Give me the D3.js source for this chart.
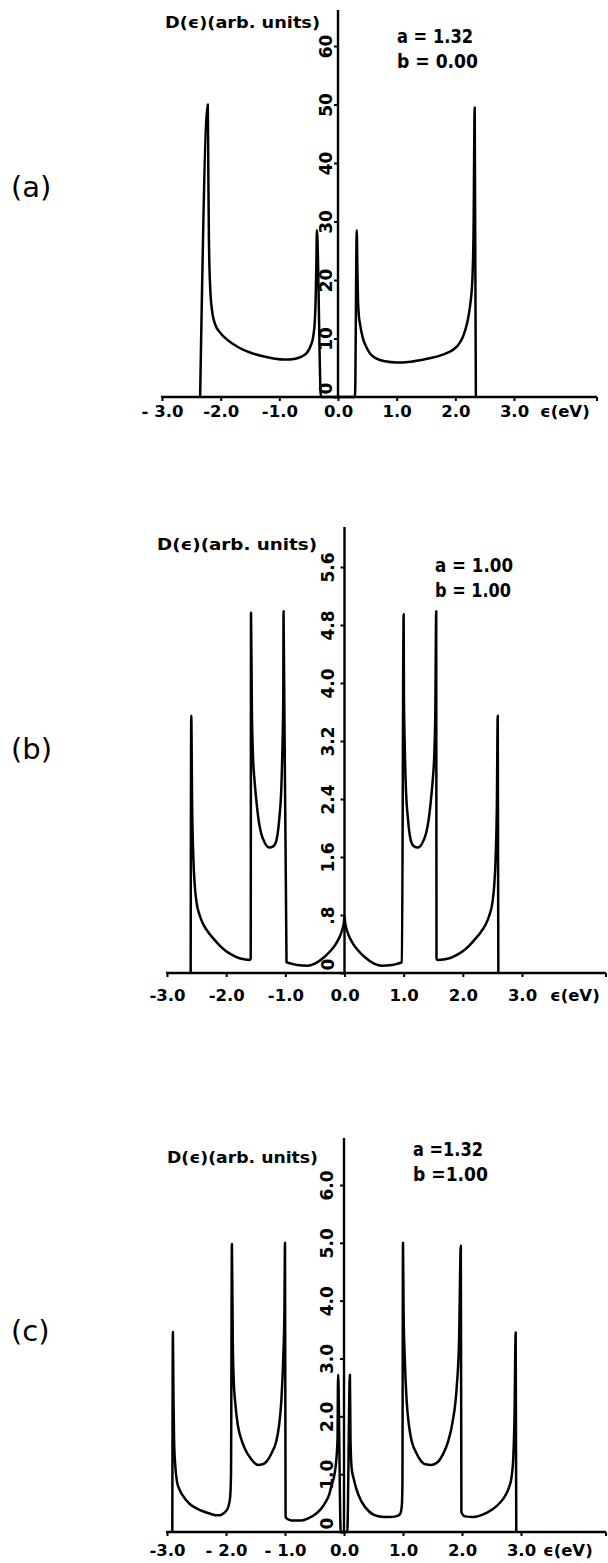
<!DOCTYPE html>
<html><head><meta charset="utf-8">
<script src="https://cdn.jsdelivr.net/npm/d3@7"></script>
<style>
body{margin:0;background:#fff;}
svg{display:block;}
</style>
</head><body>
<svg id="chart" width="608" height="1563"></svg>
<script>
// ---------- DATA ----------
const xTickValues = [-3, -2, -1, 0, 1, 2, 3];
const xTickLabelsA = ["- 3.0", "-2.0", "-1.0", "0.0", "1.0", "2.0", "3.0"];
const xTickLabelsB = ["-3.0", "-2.0", "-1.0", "0.0", "1.0", "2.0", "3.0"];
const xTickLabelsC = ["-3.0", "- 2.0", "- 1.0", "0.0", "1.0", "2.0", "3.0"];
const xAxisTitle = "\u03F5(eV)";
const yAxisTitle = "D(\u03F5)(arb. units)";

const yTicksA = [0, 10, 20, 30, 40, 50, 60];
const yTickLabelsA = ["0", "10", "20", "30", "40", "50", "60"];
const yTicksB = [0, 0.8, 1.6, 2.4, 3.2, 4.0, 4.8, 5.6];
const yTickLabelsB = ["0", ".8", "1.6", "2.4", "3.2", "4.0", "4.8", "5.6"];
const yTicksC = [0, 1, 2, 3, 4, 5, 6];
const yTickLabelsC = ["0", "1.0", "2.0", "3.0", "4.0", "5.0", "6.0"];

const panelNames = ["(a)", "(b)", "(c)"];
const paramsA = ["a = 1.32", "b = 0.00"];
const paramsB = ["a = 1.00", "b = 1.00"];
const paramsC = ["a =1.32", "b =1.00"];

// density of states, [energy (eV), D]
const dosA = [
  [-2.35,0],[-2.22,50],[-2.21,38],[-2.20,27],[-2.18,19],[-2.15,15],[-2.10,12.6],[-2.0,10.9],
  [-1.89,9.8],[-1.7,8.5],[-1.5,7.6],[-1.3,7.0],[-1.1,6.6],[-0.9,6.4],[-0.75,6.5],[-0.62,6.9],
  [-0.52,7.7],[-0.46,8.9],[-0.42,10.5],[-0.395,13],[-0.38,17],[-0.37,22],[-0.36,28.5],[-0.29,0],
  [0.29,0],[0.32,28.5],[0.33,22],[0.34,17],[0.355,14],[0.375,12.5],[0.42,10.2],[0.48,8.6],
  [0.55,7.4],[0.65,6.6],[0.8,6.1],[1.0,5.9],[1.2,6.0],[1.4,6.3],[1.6,6.7],[1.8,7.3],[1.95,8.0],
  [2.05,8.9],[2.13,10.3],[2.2,12.6],[2.25,15.5],[2.29,20],[2.31,28],[2.33,49.5],[2.35,0]
];
const dosB = [
  [-2.60,0],[-2.59,3.55],[-2.575,2.3],[-2.555,1.6],[-2.53,1.2],[-2.50,0.97],[-2.45,0.8],[-2.38,0.66],
  [-2.3,0.56],[-2.2,0.46],[-2.1,0.37],[-2.0,0.3],[-1.9,0.25],[-1.8,0.21],[-1.7,0.19],[-1.6,0.18],
  [-1.585,0.2],[-1.58,4.97],[-1.565,3.6],[-1.55,3.07],[-1.52,2.65],[-1.49,2.38],[-1.45,2.1],[-1.41,1.93],
  [-1.35,1.8],[-1.27,1.73],[-1.2,1.75],[-1.15,1.83],[-1.12,1.98],[-1.10,2.15],[-1.07,2.5],[-1.05,3.07],
  [-1.035,3.8],[-1.03,4.99],[-0.98,0.15],[-0.9,0.13],[-0.8,0.11],[-0.63,0.10],[-0.5,0.13],[-0.34,0.22],
  [-0.22,0.32],[-0.14,0.41],[-0.07,0.52],[-0.03,0.62],[-0.012,0.69],[0,0.78],[0.012,0.69],
  [0.03,0.62],[0.07,0.52],[0.14,0.41],[0.22,0.32],[0.34,0.22],[0.5,0.13],[0.63,0.10],[0.8,0.11],
  [0.9,0.13],[0.97,0.15],[1.0,4.95],[1.005,3.8],[1.02,3.07],[1.04,2.5],[1.07,2.15],[1.09,1.98],
  [1.12,1.83],[1.17,1.75],[1.24,1.73],[1.32,1.8],[1.38,1.93],[1.42,2.1],[1.46,2.38],[1.49,2.65],
  [1.52,3.07],[1.535,3.6],[1.55,4.99],[1.555,0.2],[1.57,0.18],[1.7,0.19],[1.8,0.21],[1.9,0.25],
  [2.0,0.3],[2.1,0.37],[2.2,0.46],[2.3,0.56],[2.38,0.66],[2.45,0.8],[2.50,0.97],[2.53,1.2],
  [2.555,1.6],[2.575,2.3],[2.59,3.55],[2.60,0]
];
const dosC = [
  [-2.91,0],[-2.90,3.46],[-2.89,2.3],[-2.88,1.6],[-2.86,1.15],[-2.83,0.87],[-2.79,0.74],[-2.74,0.64],
  [-2.61,0.48],[-2.5,0.41],[-2.37,0.35],[-2.25,0.31],[-2.18,0.29],[-2.1,0.29],[-2.06,0.31],[-2.0,0.36],
  [-1.96,0.44],[-1.93,0.6],[-1.915,1.0],[-1.90,4.98],[-1.885,3.3],[-1.87,2.65],[-1.84,2.2],[-1.80,1.85],
  [-1.74,1.6],[-1.68,1.44],[-1.58,1.27],[-1.46,1.16],[-1.38,1.17],[-1.29,1.25],[-1.22,1.38],[-1.15,1.56],
  [-1.10,1.85],[-1.06,2.3],[-1.03,3.0],[-1.01,3.8],[-1.00,5.0],[-0.99,0.26],[-0.95,0.22],[-0.89,0.2],
  [-0.72,0.2],[-0.6,0.24],[-0.48,0.31],[-0.39,0.4],[-0.31,0.52],[-0.25,0.65],[-0.21,0.81],[-0.17,0.95],
  [-0.14,1.15],[-0.11,1.6],[-0.10,2.72],[-0.055,0],
  [0.055,0],[0.10,2.72],[0.11,1.6],[0.13,1.1],[0.17,0.9],[0.21,0.74],[0.3,0.52],[0.43,0.35],
  [0.6,0.27],[0.77,0.26],[0.88,0.27],[0.95,0.31],[0.98,0.45],[0.99,0.8],[1.0,5.0],[1.01,3.8],
  [1.03,3.0],[1.06,2.3],[1.10,1.85],[1.15,1.56],[1.22,1.38],[1.29,1.25],[1.38,1.17],[1.48,1.16],
  [1.58,1.2],[1.68,1.35],[1.76,1.55],[1.84,1.9],[1.91,2.5],[1.95,3.3],[1.98,4.95],[1.99,0.35],
  [2.0,0.32],[2.05,0.27],[2.2,0.26],[2.35,0.3],[2.5,0.38],[2.62,0.48],[2.74,0.64],[2.8,0.78],
  [2.84,0.95],[2.87,1.3],[2.89,2.0],[2.91,3.45],[2.92,0]
];

// ---------- DRAWING ----------
const svg = d3.select("#chart");
const FONT = "'DejaVu Sans', sans-serif";

function drawPanel(cfg) {
  const x = d3.scaleLinear().domain([-3, 3]).range(cfg.xRange);
  const y = d3.scaleLinear().domain(cfg.yDomain).range(cfg.yRange);
  const g = svg.append("g");

  // x axis ticks
  const xa = g.append("g").attr("transform", `translate(0,${y(0)})`)
    .call(d3.axisBottom(x).tickValues(xTickValues).tickSize(4)
      .tickFormat((d, i) => cfg.xLabels[i]));
  xa.select(".domain").remove();
  xa.selectAll(".tick line").attr("stroke", "#000").attr("stroke-width", 2);
  xa.selectAll(".tick text").attr("y", cfg.xLabelOffset).attr("dy", 0)
    .attr("font-family", FONT).attr("font-weight", "bold").attr("font-size", 16.5)
    .attr("fill", "#000");
  // x axis line
  g.append("line").attr("x1", x(-3) - 1).attr("x2", cfg.xEnd)
    .attr("y1", y(0)).attr("y2", y(0)).attr("stroke", "#000").attr("stroke-width", 2.4);
  g.append("line").attr("x1", cfg.xEnd).attr("x2", cfg.xEnd)
    .attr("y1", y(0)).attr("y2", y(0) + 4).attr("stroke", "#000").attr("stroke-width", 2);
  g.append("text").attr("x", cfg.xTitleX).attr("y", y(0) + cfg.xLabelOffset)
    .attr("font-family", FONT).attr("font-weight", "bold").attr("font-size", 16.5)
    .text(xAxisTitle);

  // y axis
  const ya = g.append("g").attr("transform", `translate(${x(0)},0)`)
    .call(d3.axisLeft(y).tickValues(cfg.yTicks).tickSize(4).tickFormat(""));
  ya.select(".domain").remove();
  ya.selectAll(".tick line").attr("stroke", "#000").attr("stroke-width", 2);
  ya.selectAll(".tick").append("text")
    .attr("transform", d => d === 0
      ? `translate(${-cfg.yLabelOffset},-3) rotate(-90)`
      : `translate(${-cfg.yLabelOffset},0) rotate(-90)`)
    .attr("text-anchor", d => d === 0 ? "start" : "middle")
    .attr("dy", "0.36em")
    .attr("font-family", FONT).attr("font-weight", "bold").attr("font-size", 17)
    .attr("fill", "#000")
    .text((d, i) => cfg.yLabels[i]);
  g.append("line").attr("x1", x(0)).attr("x2", x(0))
    .attr("y1", y(0) + 1).attr("y2", cfg.yTop).attr("stroke", "#000").attr("stroke-width", 2.4);

  // curve
  const line = d3.line().x(d => x(d[0])).y(d => y(d[1])).curve(d3.curveMonotoneX);
  g.append("path").datum(cfg.dos).attr("d", line)
    .attr("fill", "none").attr("stroke", "#000").attr("stroke-width", 2.5)
    .attr("stroke-linejoin", "round");

  // texts
  g.append("text").attr("x", cfg.titleX).attr("y", cfg.titleY)
    .attr("font-family", FONT).attr("font-weight", "bold").attr("font-size", 16)
    .attr("textLength", cfg.titleLen).attr("lengthAdjust", "spacingAndGlyphs")
    .text(yAxisTitle);
  cfg.params.forEach((p, i) => {
    g.append("text").attr("x", cfg.paramX).attr("y", cfg.paramY + i * 25)
      .attr("font-family", FONT).attr("font-size", 19).attr("font-weight", "bold")
      .attr("textLength", cfg.paramLen[i]).attr("lengthAdjust", "spacingAndGlyphs")
      .text(p);
  });
  g.append("text").attr("x", 11).attr("y", cfg.nameY)
    .attr("font-family", FONT).attr("font-size", 29)
    .text(cfg.name);
}

drawPanel({
  xRange: [162, 514], yDomain: [0, 60], yRange: [397, 46], yTop: 10, xEnd: 597,
  xLabels: xTickLabelsA, xLabelOffset: 20, xTitleX: 540,
  yTicks: yTicksA, yLabels: yTickLabelsA, yLabelOffset: 12,
  dos: dosA, titleX: 165, titleY: 28, titleLen: 155,
  params: paramsA, paramLen: [76, 81], paramX: 397, paramY: 43, name: panelNames[0], nameY: 197
});
drawPanel({
  xRange: [167, 522], yDomain: [0, 5.6], yRange: [973, 567], yTop: 527, xEnd: 606,
  xLabels: xTickLabelsB, xLabelOffset: 28, xTitleX: 550,
  yTicks: yTicksB, yLabels: yTickLabelsB, yLabelOffset: 17,
  dos: dosB, titleX: 157, titleY: 550, titleLen: 160,
  params: paramsB, paramLen: [78, 76], paramX: 435, paramY: 572, name: panelNames[1], nameY: 759
});
drawPanel({
  xRange: [167, 521], yDomain: [0, 6], yRange: [1532, 1185], yTop: 1138, xEnd: 606,
  xLabels: xTickLabelsC, xLabelOffset: 24, xTitleX: 543,
  yTicks: yTicksC, yLabels: yTickLabelsC, yLabelOffset: 17,
  dos: dosC, titleX: 167, titleY: 1163, titleLen: 151,
  params: paramsC, paramLen: [70, 75], paramX: 413, paramY: 1156, name: panelNames[2], nameY: 1341
});
</script>
</body></html>
